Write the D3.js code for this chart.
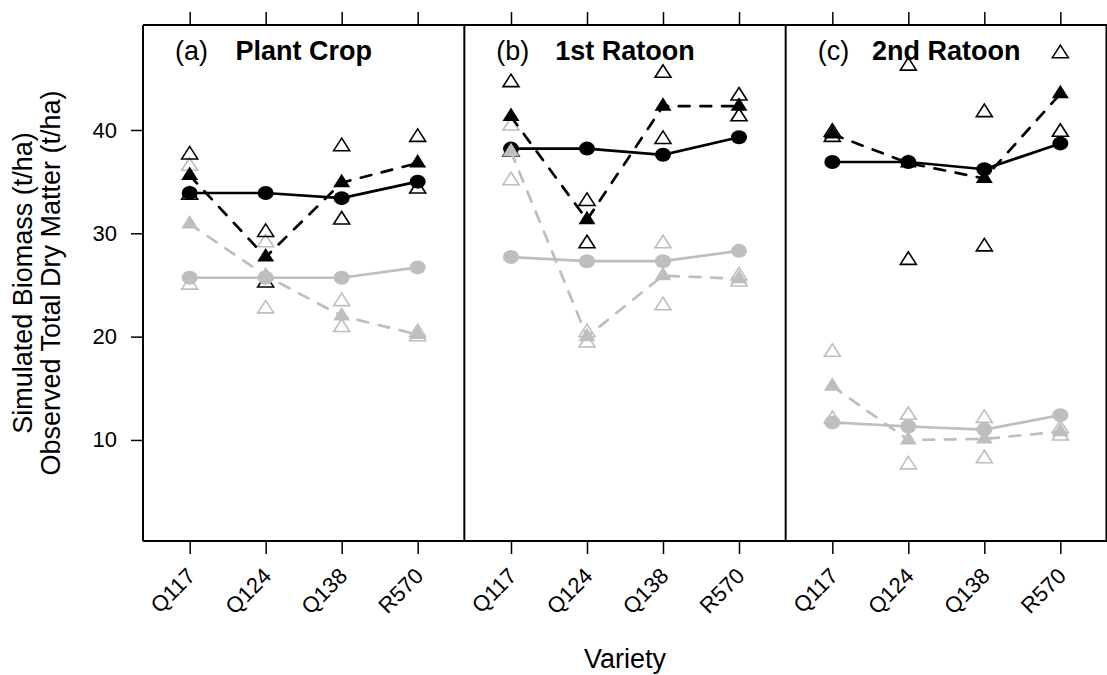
<!DOCTYPE html>
<html>
<head>
<meta charset="utf-8">
<script src="https://cdn.jsdelivr.net/npm/d3@7"></script>
<style>
  body { margin: 0; background: #fff; }
  text { font-family: "Liberation Sans", Arial, Helvetica, sans-serif; fill: #000; }
</style>
</head>
<body>
<div id="layout"></div>
<script>
// categories
const crops = ["Plant Crop", "1st Ratoon", "2nd Ratoon"];
const panelTags = ["(a)", "(b)", "(c)"];
const varieties = ["Q117", "Q124", "Q138", "R570"];
const yTicks = [10, 20, 30, 40];

// simulated biomass (circles, solid lines), one row per crop
const simBlack = [[33.9, 33.9, 33.4, 35.0], [38.2, 38.2, 37.6, 39.3], [36.9, 36.9, 36.2, 38.7]];
const simGray  = [[25.7, 25.7, 25.7, 26.7], [27.7, 27.3, 27.3, 28.3], [11.7, 11.3, 11.0, 12.4]];

// observed mean (filled triangles, dashed lines)
const obsBlack = [[35.6, 27.7, 34.9, 36.8], [41.3, 31.3, 42.3, 42.3], [39.6, 36.8, 35.3, 43.5]];
const obsGray  = [[30.9, 25.9, 22.0, 20.2], [37.9, 20.0, 25.9, 25.6], [15.2, 10.0, 10.1, 10.8]];

// observed replicates (open triangles), [crop][variety][rep]
const repBlack = [
  [[37.6, 33.7], [30.1, 25.2], [38.4, 31.3], [39.3, 34.3]],
  [[44.6, 37.9], [33.1, 29.0], [45.5, 39.1], [43.3, 41.3]],
  [[39.8, 39.3], [46.2, 27.4], [41.7, 28.7], [47.4, 39.8]]
];
const repGray = [
  [[36.5, 25.0], [29.1, 22.7], [23.4, 20.9], [20.4, 20.0]],
  [[40.4, 35.1], [20.4, 19.4], [29.0, 23.0], [25.9, 25.3]],
  [[18.5, 12.0], [12.4, 7.6], [12.1, 8.2], [11.1, 10.4]]
];

var outerWidth = 1107,
    outerHeight = 675,
    plotLeft = 143,
    plotRight = 1107,
    plotTop = 25,
    plotBottom = 541;

const black = "#000000";
const gray = "#bebebe";

const svg = d3.select("#layout")
  .append("svg")
  .attr("width", outerWidth)
  .attr("height", outerHeight);

// scales
const yScale = d3.scaleLinear()
  .domain([0.22, 50.16])
  .range([plotBottom, plotTop]);

const panelScale = d3.scaleBand()
  .domain(crops)
  .range([plotLeft, plotRight]);

const pw = panelScale.bandwidth();

const xScale = d3.scalePoint()
  .domain(varieties)
  .range([0, pw])
  .padding(0.614);

// markers (image is slightly wider than tall)
const triPath = (w, h) => `M0,${-2 * h / 3}L${w / 2},${h / 3}L${-w / 2},${h / 3}Z`;
const ellipsePath = (rx, ry) => `M${-rx},0A${rx},${ry} 0 1,0 ${rx},0A${rx},${ry} 0 1,0 ${-rx},0Z`;

// Y axis
const yAxis = d3.axisLeft(yScale)
  .tickValues(yTicks)
  .tickSize(12)
  .tickPadding(14);

const yG = svg.append("g")
  .attr("transform", `translate(${plotLeft},0)`)
  .call(yAxis);
yG.select(".domain").remove();
yG.selectAll("line").attr("stroke", black).attr("stroke-width", 1.5);
yG.selectAll("text")
  .style("font-size", "22px")
  .style("font-family", "'Liberation Sans', Arial, sans-serif");

const line = d3.line()
  .x(d => xScale(d.v))
  .y(d => yScale(d.val));

crops.forEach((crop, ci) => {
  const x0 = panelScale(crop);
  const g = svg.append("g").attr("transform", `translate(${x0},0)`);

  // bottom axis with rotated labels
  const bottom = g.append("g")
    .attr("transform", `translate(0,${plotBottom})`)
    .call(d3.axisBottom(xScale).tickSize(13));
  bottom.select(".domain").remove();
  bottom.selectAll("line").attr("stroke", black).attr("stroke-width", 1.5);
  bottom.selectAll("text")
    .style("font-size", "22px")
    .style("font-family", "'Liberation Sans', Arial, sans-serif")
    .attr("text-anchor", "end")
    .attr("x", 0)
    .attr("y", 0)
    .attr("dy", "0.35em")
    .attr("transform", "translate(1,31) rotate(-45)");

  // top axis, ticks only
  const top = g.append("g")
    .attr("transform", `translate(0,${plotTop})`)
    .call(d3.axisTop(xScale).tickSize(13).tickFormat(""));
  top.select(".domain").remove();
  top.selectAll("line").attr("stroke", black).attr("stroke-width", 1.5);

  // panel strip text
  g.append("text")
    .attr("x", 32)
    .attr("y", 60)
    .style("font-size", "27px")
    .text(panelTags[ci]);
  g.append("text")
    .attr("x", pw / 2)
    .attr("y", 60)
    .attr("text-anchor", "middle")
    .style("font-size", "27px")
    .style("font-weight", "bold")
    .text(crop);

  const series = [
    { color: black, sim: simBlack[ci], obs: obsBlack[ci], reps: repBlack[ci] },
    { color: gray, sim: simGray[ci], obs: obsGray[ci], reps: repGray[ci] }
  ];

  // replicates first (gray under black)
  [series[1], series[0]].forEach(s => {
    const pts = [];
    s.reps.forEach((r, vi) => r.forEach(val => pts.push({ v: varieties[vi], val: val })));
    g.selectAll(null)
      .data(pts)
      .enter()
      .append("path")
      .attr("d", triPath(16, 12.5))
      .attr("transform", d => `translate(${xScale(d.v)},${yScale(d.val)})`)
      .attr("fill", "none")
      .attr("stroke", s.color)
      .attr("stroke-width", 1.6);
  });

  // means and simulations
  series.forEach(s => {
    const obsPts = s.obs.map((val, i) => ({ v: varieties[i], val: val }));
    const simPts = s.sim.map((val, i) => ({ v: varieties[i], val: val }));

    g.append("path")
      .datum(obsPts)
      .attr("d", line)
      .attr("fill", "none")
      .attr("stroke", s.color)
      .attr("stroke-width", 2.7)
      .attr("stroke-linecap", "round")
      .attr("stroke-dasharray", "10.8,10.8");

    g.selectAll(null)
      .data(obsPts)
      .enter()
      .append("path")
      .attr("d", triPath(17, 13.5))
      .attr("transform", d => `translate(${xScale(d.v)},${yScale(d.val)})`)
      .attr("fill", s.color);

    g.append("path")
      .datum(simPts)
      .attr("d", line)
      .attr("fill", "none")
      .attr("stroke", s.color)
      .attr("stroke-width", 2.7)
      .attr("stroke-linecap", "round");

    g.selectAll(null)
      .data(simPts)
      .enter()
      .append("path")
      .attr("d", ellipsePath(8, 7))
      .attr("transform", d => `translate(${xScale(d.v)},${yScale(d.val)})`)
      .attr("fill", s.color);
  });
});

// panel frame
const frame = svg.append("g")
  .attr("fill", "none")
  .attr("stroke", black)
  .attr("stroke-width", 2);
frame.append("line").attr("x1", plotLeft).attr("x2", plotRight).attr("y1", plotTop).attr("y2", plotTop);
frame.append("line").attr("x1", plotLeft).attr("x2", plotRight).attr("y1", plotBottom).attr("y2", plotBottom);
crops.forEach(c => {
  frame.append("line")
    .attr("x1", panelScale(c)).attr("x2", panelScale(c))
    .attr("y1", plotTop).attr("y2", plotBottom);
});
frame.append("line").attr("x1", plotRight - 0.5).attr("x2", plotRight - 0.5).attr("y1", plotTop).attr("y2", plotBottom);

// axis titles
const yTitle = svg.append("text")
  .attr("text-anchor", "middle")
  .attr("transform", `translate(32,${(plotTop + plotBottom) / 2}) rotate(-90)`)
  .style("font-size", "27px")
  .text("Simulated Biomass (t/ha)");
svg.append("text")
  .attr("text-anchor", "middle")
  .attr("transform", `translate(60,${(plotTop + plotBottom) / 2}) rotate(-90)`)
  .style("font-size", "27px")
  .text("Observed Total Dry Matter (t/ha)");

svg.append("text")
  .attr("text-anchor", "middle")
  .attr("x", (plotLeft + plotRight) / 2)
  .attr("y", 668)
  .style("font-size", "27px")
  .text("Variety");
</script>
</body>
</html>
